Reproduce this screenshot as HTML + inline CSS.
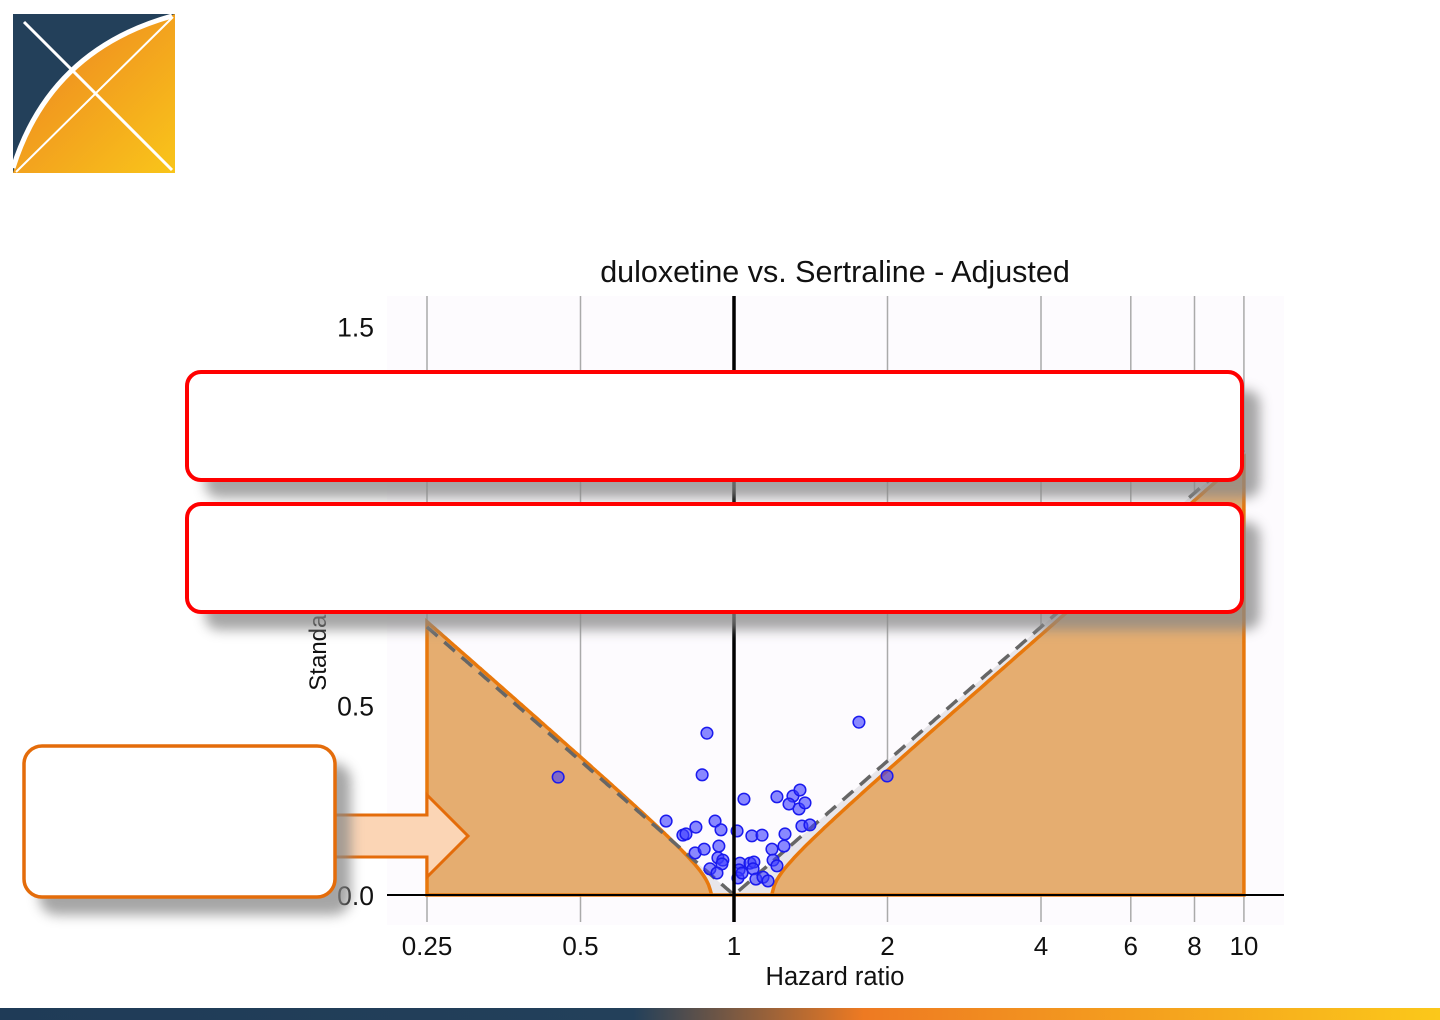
<!DOCTYPE html>
<html><head><meta charset="utf-8"><style>
html,body{margin:0;padding:0;background:#fff;}
body{width:1440px;height:1020px;overflow:hidden;position:relative;font-family:"Liberation Sans",Arial,sans-serif;}
svg{position:absolute;left:0;top:0;}
</style></head><body>
<svg id="chart" width="1440" height="1020" viewBox="0 0 1440 1020">
<defs>
<linearGradient id="og" x1="0" y1="0" x2="1" y2="1"><stop offset="0" stop-color="#ec7f22"/><stop offset="1" stop-color="#f9c51a"/></linearGradient>
<linearGradient id="bar" x1="0" y1="0" x2="1" y2="0"><stop offset="0" stop-color="#1f3b57"/><stop offset="0.44" stop-color="#23405a"/><stop offset="0.6" stop-color="#ee7a22"/><stop offset="1" stop-color="#fbc81a"/></linearGradient>
<filter id="sh" x="-10%" y="-30%" width="130%" height="170%"><feGaussianBlur stdDeviation="6"/></filter>
<clipPath id="pc"><rect x="387" y="296" width="897" height="629"/></clipPath>
</defs>
<g>
<rect x="13" y="14" width="162" height="159" fill="#23405a"/>
<path d="M13,173 Q45,55 175,14 L175,173 Z" fill="url(#og)"/>
<path d="M13,168 Q50,50 172,16" fill="none" stroke="#fff" stroke-width="5"/>
<line x1="16" y1="172" x2="173" y2="17" stroke="#fff" stroke-width="2"/>
<line x1="24" y1="22" x2="172" y2="170" stroke="#fff" stroke-width="3"/>
</g>
<rect x="0" y="1008" width="1440" height="12" fill="url(#bar)"/>
<text x="835" y="282" text-anchor="middle" font-size="30.5" fill="#111">duloxetine vs. Sertraline - Adjusted</text>
<rect x="387" y="296" width="897" height="629" fill="#fdfbfe"/>
<g id="grid"></g>
<g id="areas" clip-path="url(#pc)"></g>
<g id="pts"></g>
<g id="axes"></g>
<text transform="translate(326,612) rotate(-90)" text-anchor="middle" font-size="24" fill="#111">Standard Error</text>
<text x="835" y="985" text-anchor="middle" font-size="25.5" fill="#111">Hazard ratio</text>
<g>
<rect x="205" y="390" width="1055" height="108" rx="14" fill="#888" opacity="0.75" filter="url(#sh)"/>
<rect x="187" y="372" width="1055" height="108" rx="14" fill="#fff" stroke="#f00" stroke-width="4"/>
</g>
<g>
<rect x="205" y="522" width="1055" height="108" rx="14" fill="#888" opacity="0.75" filter="url(#sh)"/>
<rect x="187" y="504" width="1055" height="108" rx="14" fill="#fff" stroke="#f00" stroke-width="4"/>
</g>
<g>
<path d="M334,815 L427,815 L427,795 L468,836 L427,877 L427,857 L334,857 Z" fill="#fbd5b5" stroke="#e46c0a" stroke-width="3"/>
</g>
<g>
<rect x="39" y="763" width="312" height="152" rx="18" fill="#888" opacity="0.75" filter="url(#sh)"/>
<rect x="24" y="746" width="311" height="151" rx="18" fill="#fff" stroke="#e46c0a" stroke-width="3.5"/>
</g>
</svg>
<script>
const xTicks=[0.25,0.5,1,2,4,6,8,10];
const xTickLabels=["0.25","0.5","1","2","4","6","8","10"];
const yTicks=[0,0.5,1.0,1.5];
const yTickLabels=["0.0","0.5","1.0","1.5"];
const hazardRatios=[0.885,0.866,1.758,1.996,0.736,0.794,0.805,0.842,0.918,0.943,0.839,0.874,0.934,1.014,1.046,1.084,1.135,1.214,1.305,1.347,1.282,1.341,1.378,1.359,1.409,1.259,1.253,1.187,1.193,1.214,0.930,0.951,0.947,0.897,0.926,1.027,1.075,1.094,1.023,1.090,1.018,1.104,1.140,1.166,1.037,0.452];
const standardErrors=[0.427,0.317,0.456,0.314,0.195,0.158,0.161,0.179,0.195,0.172,0.111,0.121,0.129,0.169,0.253,0.156,0.158,0.259,0.261,0.277,0.240,0.227,0.243,0.182,0.185,0.161,0.129,0.121,0.092,0.077,0.098,0.092,0.082,0.069,0.058,0.084,0.084,0.087,0.066,0.069,0.045,0.042,0.047,0.037,0.058,0.311];
const nullMean=[0.034];
const nullSd=[0.071];
const NS='http://www.w3.org/2000/svg';
const xs=h=>734+153.5*Math.log2(h);
const ys=s=>895-379*s;
function mk(tag,attrs,parent){const e=document.createElementNS(NS,tag);for(const k in attrs)e.setAttribute(k,attrs[k]);parent.appendChild(e);return e;}
const grid=document.getElementById('grid'),areas=document.getElementById('areas'),pts=document.getElementById('pts'),axes=document.getElementById('axes');
xTicks.forEach((t,i)=>{
  if(t===1)return;
  const l=mk('line',{x1:xs(t),x2:xs(t),y1:296,y2:922,stroke:'#aaa','stroke-width':1.5},grid);
  
  
});
const calib=h=>{const d=Math.abs(Math.log(h)-nullMean[0])/1.96;const v=d*d-nullSd[0]*nullSd[0];return v>0?Math.sqrt(v):0;};
const dash=h=>Math.abs(Math.log(h))/1.96;
function sidePath(f,a,b){let p=[];const n=200;for(let i=0;i<=n;i++){const h=Math.exp(Math.log(a)+(Math.log(b)-Math.log(a))*i/n);p.push(xs(h).toFixed(1)+','+ys(f(h)).toFixed(1));}return p;}
const lo=0.25,hi=10,mid=Math.exp(nullMean[0]);
const gL=sidePath(dash,lo,1),gR=sidePath(dash,1,hi);
const gb=mk('path',{d:'M'+xs(lo)+','+ys(0)+' L'+gL.join(' L')+' L'+gR.join(' L')+' L'+xs(hi)+','+ys(0)+' Z',fill:'#e8e6ea'},areas);


const oL=sidePath(calib,lo,mid),oR=sidePath(calib,mid,hi);
const of=mk('path',{d:'M'+xs(lo)+','+ys(0)+' L'+oL.join(' L')+' L'+oR.join(' L')+' L'+xs(hi)+','+ys(0)+' Z',fill:'#e5ad70',stroke:'#e8780c','stroke-width':3.5},areas);


const dl=mk('path',{d:'M'+gL.join(' L')+' L'+gR.join(' L'),fill:'none',stroke:'#666','stroke-width':3.5,'stroke-dasharray':'14,9'},areas);


const zl=mk('line',{x1:387,x2:1284,y1:ys(0),y2:ys(0),stroke:'#000','stroke-width':2},axes);


const vl=mk('line',{x1:xs(1),x2:xs(1),y1:296,y2:922,stroke:'#000','stroke-width':3.5},axes);


xTicks.forEach((t,i)=>{
  const tx=mk('text',{x:xs(t),y:955,'text-anchor':'middle','font-size':26,fill:'#111'},axes);
  tx.textContent=xTickLabels[i];
  
  
});
yTicks.forEach((t,i)=>{
  const tx=mk('text',{x:374,y:ys(t)+10,'text-anchor':'end','font-size':26.5,fill:'#111'},axes);
  tx.textContent=yTickLabels[i];
  
  
});
hazardRatios.forEach((h,i)=>{
  const c=mk('circle',{cx:xs(h),cy:ys(standardErrors[i]),r:5.8,fill:'rgba(60,60,255,0.6)',stroke:'#1a1aee','stroke-width':1.5},pts);
  
  
});
</script>
</body></html>
